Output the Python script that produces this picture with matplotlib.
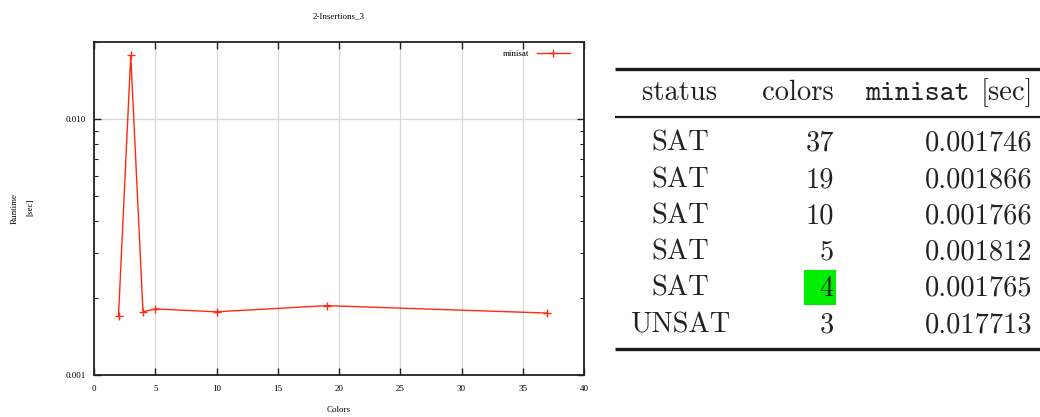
import matplotlib
matplotlib.use("Agg")
import matplotlib.pyplot as plt
from matplotlib.ticker import FixedLocator, LogLocator, NullFormatter
from matplotlib.patches import Rectangle

# Runtime series for the plot
colors_plot = [2, 3, 4, 5, 10, 19, 37]
runtime_plot = [0.00170, 0.017713, 0.001765, 0.001812, 0.001766, 0.001866, 0.001746]

# Table content
status_col = ["SAT", "SAT", "SAT", "SAT", "SAT", "UNSAT"]
colors_col = [37, 19, 10, 5, 4, 3]
minisat_col = ["0.001746", "0.001866", "0.001766", "0.001812", "0.001765", "0.017713"]
highlight_color = 4

title = "2-Insertions_3"
x_ticks = [0, 5, 10, 15, 20, 25, 30, 35, 40]
y_major = [0.001, 0.010]
y_major_labels = ["0.001", "0.010"]

W, H = 1040, 417
fig = plt.figure(figsize=(W / 100, H / 100), dpi=100)

serif = ["Liberation Serif", "DejaVu Serif"]
cfs = 6.5
line_red = "#ff2a10"
dark = "#222222"

ax_left, ax_right, ax_top, ax_bottom = 94, 584, 42, 375
ax = fig.add_axes([ax_left / W, 1 - ax_bottom / H,
                   (ax_right - ax_left) / W, (ax_bottom - ax_top) / H])
ax.plot(colors_plot, runtime_plot, color=line_red, lw=1.0, marker="+",
        markersize=6, markeredgewidth=1.0, label="minisat")
ax.set_yscale("log")
ax.set_xlim(0, 40)
ax.set_ylim(0.001, 0.02)
ax.xaxis.set_major_locator(FixedLocator(x_ticks))
ax.set_xticklabels([str(t) for t in x_ticks], family=serif, fontsize=cfs)
ax.yaxis.set_major_locator(FixedLocator(y_major))
ax.set_yticklabels(y_major_labels, family=serif, fontsize=cfs)
ax.yaxis.set_minor_locator(LogLocator(base=10, subs=range(2, 10)))
ax.yaxis.set_minor_formatter(NullFormatter())
ax.tick_params(axis="x", which="major", pad=7)
ax.tick_params(axis="y", which="major", pad=6)
ax.tick_params(which="major", direction="in", length=5, width=1.0,
               top=True, right=True, color=dark)
ax.tick_params(which="minor", direction="in", length=3, width=0.8,
               left=True, right=True, color=dark)
ax.grid(True, which="major", color="#d8d8d8", lw=0.9)
ax.set_axisbelow(True)
for s in ax.spines.values():
    s.set_linewidth(1.3)
    s.set_color(dark)

cx = (ax_left + ax_right) / 2
fig.text(cx / W, 1 - 16 / H, title, family=serif, fontsize=cfs,
         ha="center", va="center")
fig.text(cx / W, 1 - 410 / H, "Colors", family=serif, fontsize=cfs,
         ha="center", va="center")
fig.text(15 / W, 1 - 208 / H, "Runtime", family=serif, fontsize=cfs,
         ha="center", va="center", rotation=90)
fig.text(30 / W, 1 - 207 / H, "[sec]", family=serif, fontsize=cfs,
         ha="center", va="center", rotation=90)

leg = ax.legend(loc="upper right",
                bbox_to_anchor=((570 - ax_left) / (ax_right - ax_left),
                                1 - (49.5 - ax_top) / (ax_bottom - ax_top)),
                frameon=False, prop={"family": serif, "size": cfs},
                markerfirst=False, handlelength=3.7, handletextpad=0.8,
                borderpad=0, borderaxespad=0)

# Results table drawn in figure pixel coordinates
tab = fig.add_axes([0, 0, 1, 1], facecolor="none")
tab.set_xlim(0, W)
tab.set_ylim(H, 0)
tab.axis("off")

rm = ["cmr10"]
tt = ["cmtt10"]
fs = 20.5

tab.plot([615, 1040], [69, 69], color="#1a1a1a", lw=2.4, solid_capstyle="butt")
tab.plot([615, 1040], [117, 117], color="#1a1a1a", lw=1.6, solid_capstyle="butt")
tab.plot([615, 1040], [349, 349], color="#1a1a1a", lw=2.4, solid_capstyle="butt")

status_x, colors_x, minisat_x = 680, 834, 1033
header_y = 100
tab.text(status_x, header_y, "status", family=rm, fontsize=fs, ha="center",
         va="baseline", color=dark)
tab.text(colors_x, header_y, "colors", family=rm, fontsize=fs, ha="right",
         va="baseline", color=dark)
tab.text(minisat_x, header_y, "[sec]", family=rm, fontsize=fs, ha="right",
         va="baseline", color=dark)
tab.text(minisat_x - 63, header_y, "minisat", family=tt, fontsize=fs, ha="right",
         va="baseline", color=dark)

row_y = [150.7, 187.3, 223.3, 259.3, 296.0, 332.7]
for y, st, c, m in zip(row_y, status_col, colors_col, minisat_col):
    if c == highlight_color:
        tab.add_patch(Rectangle((804, 269.5), 32, 35.5, color="#00ee00", lw=0, zorder=0))
    tab.text(status_x, y, st, family=rm, fontsize=fs, ha="center", va="baseline",
             color=dark)
    tab.text(colors_x, y, str(c), family=rm, fontsize=fs, ha="right", va="baseline",
             color=dark)
    tab.text(minisat_x, y, m, family=rm, fontsize=fs, ha="right", va="baseline",
             color=dark)

fig.savefig("out.png", dpi=100)
